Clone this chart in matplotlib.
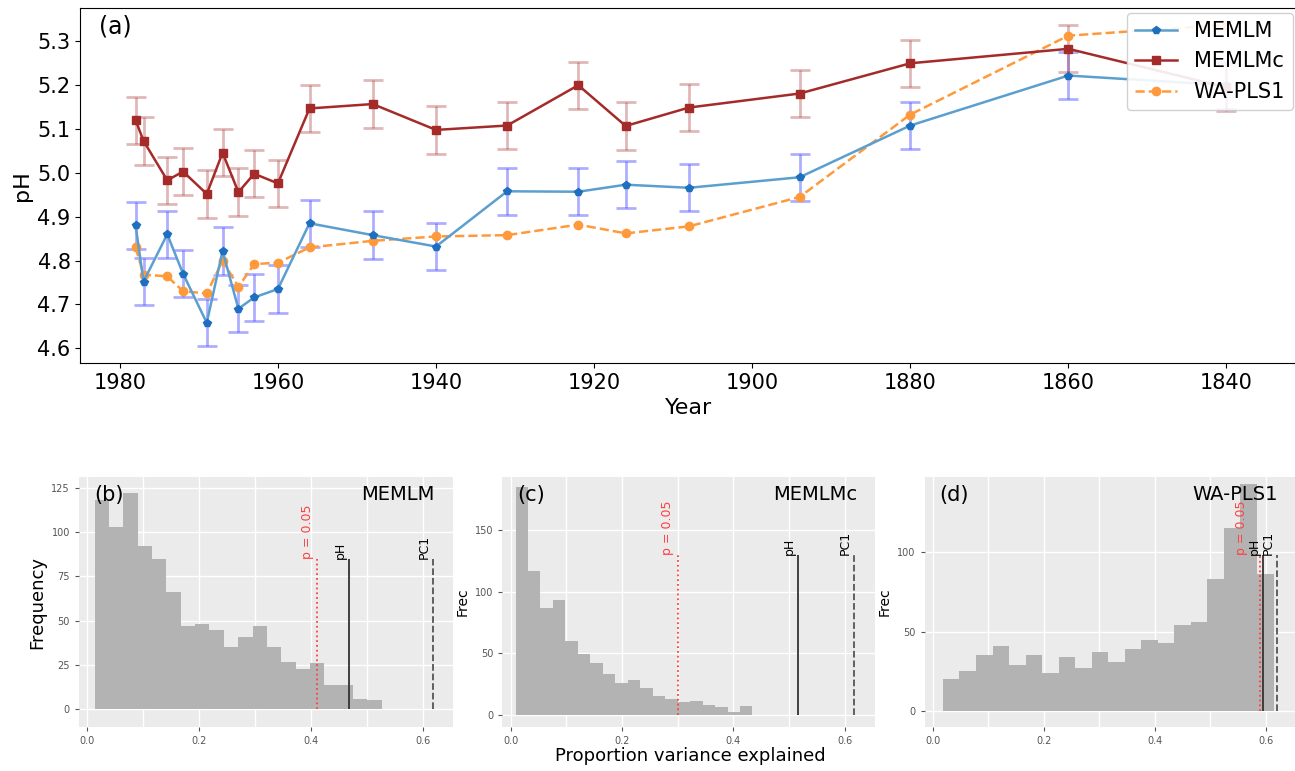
import matplotlib.pyplot as plt
import numpy as np

years = [1978, 1977, 1974, 1972, 1969, 1967, 1965, 1963, 1960, 1956, 1948, 1940,
         1931, 1922, 1916, 1908, 1894, 1880, 1860, 1840]
memlm = [4.88, 4.752, 4.86, 4.77, 4.658, 4.822, 4.69, 4.716, 4.735, 4.885, 4.858, 4.832,
         4.958, 4.957, 4.973, 4.966, 4.99, 5.108, 5.222, 5.20]
memlmc = [5.12, 5.073, 4.983, 5.003, 4.952, 5.046, 4.956, 4.998, 4.976, 5.147, 5.157, 5.098,
          5.108, 5.2, 5.107, 5.149, 5.181, 5.25, 5.283, 5.195]
wapls = [4.83, 4.768, 4.764, 4.73, 4.725, 4.8, 4.74, 4.792, 4.795, 4.83, 4.845, 4.855,
         4.858, 4.882, 4.862, 4.878, 4.945, 5.133, 5.313, 5.338]
err = 0.054

# histograms: (start, bin width, counts, p0.05 line, pH line, PC1 line)
b_counts = [118, 103, 122, 92, 85, 66, 47, 48, 45, 35, 41, 47, 35, 27, 23, 26, 14, 14, 6, 5]
c_counts = [185, 117, 87, 93, 60, 49, 42, 33, 26, 28, 22, 15, 13, 10, 11, 8, 6, 2, 7]
d_counts = [20, 25, 35, 41, 29, 35, 24, 34, 27, 37, 31, 39, 45, 43, 54, 56, 83, 115, 143, 86]
hists = [
    ('(b)', 'MEMLM', 'Frequency', 0.013, 0.0257, b_counts, 0.411, 0.468, 0.618, 85, 131, [0, 25, 50, 75, 100, 125], 0.006),
    ('(c)', 'MEMLMc', 'Frec', 0.0085, 0.0224, c_counts, 0.300, 0.516, 0.617, 130, 193, [0, 50, 100, 150], 0.006),
    ('(d)', 'WA-PLS1', 'Frec', 0.018, 0.0298, d_counts, 0.590, 0.595, 0.620, 98, 147, [0, 50, 100], 0.022),
]

fig = plt.figure(figsize=(12.95, 7.71), dpi=100)

ax = fig.add_axes([0.062, 0.529, 0.94, 0.46])
h1 = ax.errorbar(years, memlm, yerr=err, color='#5b9fcf', ecolor=(0.3, 0.3, 1.0, 0.45),
                 elinewidth=2, capsize=7, capthick=2, marker='p', ms=6, mfc='#1f6fc0',
                 mec='#1f6fc0', lw=1.8, label='MEMLM')
h2 = ax.errorbar(years, memlmc, yerr=err, color='#a52a2a', ecolor=(0.65, 0.2, 0.2, 0.35),
                 elinewidth=2, capsize=7, capthick=2, marker='s', ms=6, lw=1.8, label='MEMLMc')
h3, = ax.plot(years, wapls, color='#ff9a3c', ls='--', lw=1.8, marker='o', ms=6, label='WA-PLS1')
ax.set_xlim(1985, 1831)
ax.set_ylim(4.566, 5.375)
ax.set_yticks(np.arange(4.6, 5.31, 0.1))
ax.tick_params(labelsize=15)
ax.set_xlabel('Year', fontsize=16)
ax.set_ylabel('pH', fontsize=16)
ax.text(0.015, 0.93, '(a)', transform=ax.transAxes, fontsize=17)
ax.legend([h1[0], h2[0], h3], ['MEMLM', 'MEMLMc', 'WA-PLS1'], loc='upper right',
          fontsize=15, framealpha=0.9, borderaxespad=0.2)

positions = [[0.061, 0.057, 0.289, 0.324], [0.388, 0.057, 0.288, 0.324], [0.714, 0.057, 0.287, 0.324]]
for pos, (lab, name, ylab, start, w, counts, p05, ph, pc1, top, ymax, yt, poff) in zip(positions, hists):
    h = fig.add_axes(pos)
    h.set_facecolor('#ebebeb')
    lefts = start + w * np.arange(len(counts))
    h.bar(lefts, counts, width=w, align='edge', color='#b3b3b3', zorder=2)
    h.vlines(p05, 0, top, colors='#ff4040', linestyles=':', lw=1.3, zorder=3)
    h.vlines(ph, 0, top, colors='#333333', lw=1.3, zorder=3)
    h.vlines(pc1, 0, top, colors='#555555', linestyles='--', lw=1.3, zorder=3)
    h.text(p05 - poff, top, 'p = 0.05', color='#ff4040', rotation=90, ha='right', va='bottom', fontsize=9, zorder=4)
    h.text(ph - 0.004, top, 'pH', rotation=90, ha='right', va='bottom', fontsize=9, zorder=4)
    h.text(pc1 - 0.004, top, 'PC1', rotation=90, ha='right', va='bottom', fontsize=9, zorder=4)
    h.set_xlim(-0.015, 0.655)
    h.set_ylim(-10, ymax)
    h.set_xticks([0, 0.2, 0.4, 0.6])
    h.set_xticklabels(['0.0', '0.2', '0.4', '0.6'])
    h.set_yticks(yt)
    h.set_xticks([0.1, 0.3, 0.5], minor=True)
    h.grid(True, which='both', color='white', lw=1)
    h.set_axisbelow(True)
    h.tick_params(labelsize=7, colors='#555555', length=3)
    h.tick_params(which='minor', length=0)
    for s in h.spines.values():
        s.set_visible(False)
    h.set_ylabel(ylab, fontsize=13 if ylab == 'Frequency' else 10)
    h.text(0.04, 0.97, lab, transform=h.transAxes, fontsize=15, va='top')
    h.text(0.95, 0.97, name, transform=h.transAxes, fontsize=14, va='top', ha='right', zorder=5)

fig.text(0.533, 0.013, 'Proportion variance explained', ha='center', fontsize=13)

fig.savefig('out.png', dpi=100)
